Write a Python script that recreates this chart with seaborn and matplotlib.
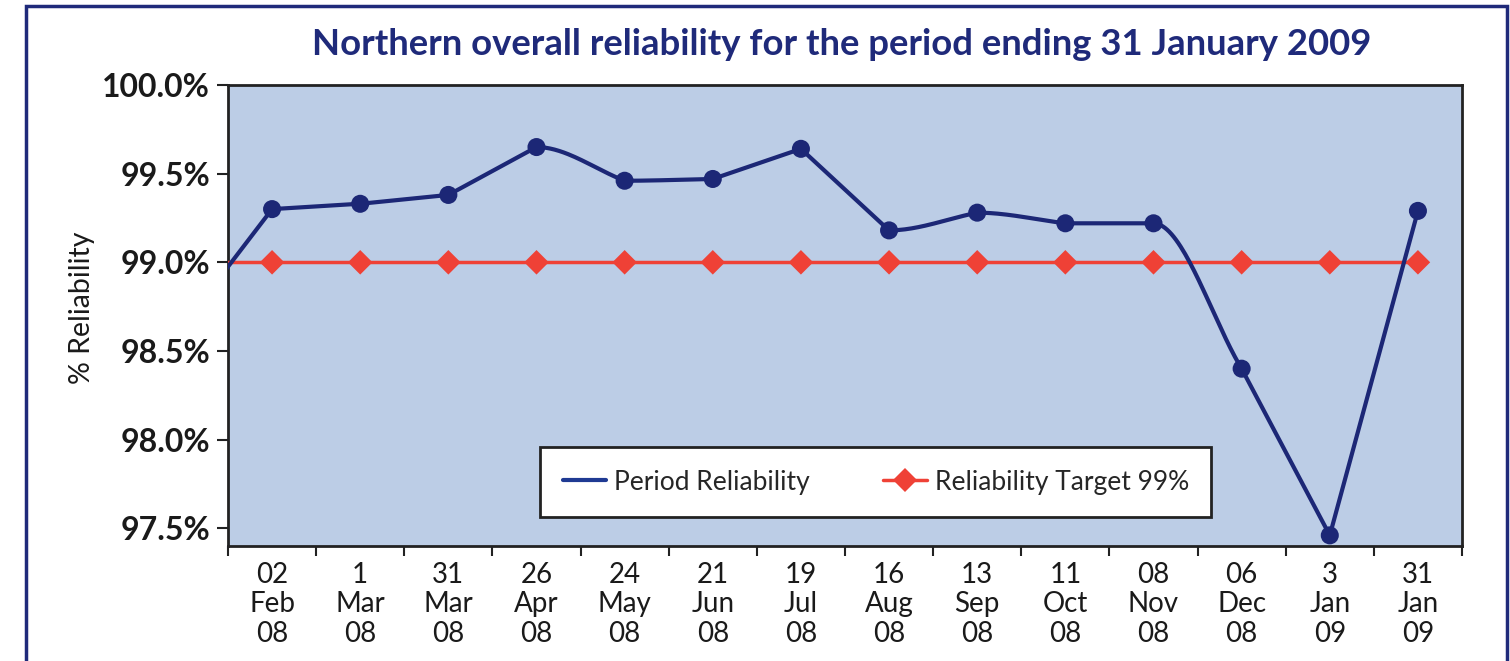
import numpy as np
import pandas as pd
import matplotlib
matplotlib.use("Agg")
import matplotlib.pyplot as plt
import seaborn as sns
from matplotlib.lines import Line2D
from matplotlib.patches import Rectangle

# ---------------- data ----------------
categories = ["02\nFeb\n08", "1\nMar\n08", "31\nMar\n08", "26\nApr\n08", "24\nMay\n08",
              "21\nJun\n08", "19\nJul\n08", "16\nAug\n08", "13\nSep\n08", "11\nOct\n08",
              "08\nNov\n08", "06\nDec\n08", "3\nJan\n09", "31\nJan\n09"]
period_reliability = [99.30, 99.33, 99.38, 99.65, 99.46, 99.47, 99.64,
                      99.18, 99.28, 99.22, 99.22, 98.40, 97.46, 99.29]
prior_period_reliability = 98.65   # previous period, just off the left edge
reliability_target = [99.0] * len(categories)
prior_period_target = 99.0
ytick_values = [97.5, 98.0, 98.5, 99.0, 99.5, 100.0]

NAVY = "#1c2776"
RED = "#ef4136"
FACE = "#bccde6"
FONT = "Lato"


def smooth_curve(xs, ys, n=40):
    xs = np.asarray(xs, float)
    ys = np.asarray(ys, float)
    m = np.diff(ys) / np.diff(xs)
    cx, cy = [], []
    t = np.linspace(0, 1, n)
    h00 = 2 * t**3 - 3 * t**2 + 1
    h10 = t**3 - 2 * t**2 + t
    h01 = -2 * t**3 + 3 * t**2
    h11 = t**3 - t**2
    for i in range(len(xs) - 1):
        h = xs[i + 1] - xs[i]
        m_out = m[i]
        if i == 0:
            s0 = m_out
        else:
            m_in = m[i - 1]
            flat = abs(m_in) < 1e-9 or (m_in * m_out <= 0 and abs(m_out) <= abs(m_in))
            s0 = 0.0 if flat else m_out
        s1 = m_out
        cx.extend(xs[i] + t * h)
        cy.extend(h00 * ys[i] + h10 * h * s0 + h01 * ys[i + 1] + h11 * h * s1)
    return np.array(cx), np.array(cy)


sns.set_style("white")
plt.rcParams["font.family"] = [FONT, "DejaVu Sans"]

idx = np.arange(len(categories))
df = pd.DataFrame({"pos": idx, "period": period_reliability, "target": reliability_target})
target_line = pd.DataFrame({"pos": np.concatenate([[-1], idx]),
                            "target": [prior_period_target] + reliability_target})

cx, cy = smooth_curve(np.concatenate([[-1], idx]),
                      np.concatenate([[prior_period_reliability], period_reliability]))
curve = pd.DataFrame({"pos": cx, "val": cy})

fig = plt.figure(figsize=(15.1, 6.61), dpi=100)
ax = fig.add_axes([228 / 1510, 1 - 546 / 661, 1234 / 1510, 461 / 661])
ax.set_facecolor(FACE)

sns.lineplot(data=target_line, x="pos", y="target", ax=ax, color=RED, linewidth=2.5,
             zorder=3, legend=False)
sns.scatterplot(data=df, x="pos", y="target", ax=ax, color=RED, marker="D",
                s=12.5 ** 2, edgecolor="none", zorder=3, legend=False)
sns.lineplot(data=curve, x="pos", y="val", ax=ax, color=NAVY, linewidth=3,
             sort=False, estimator=None, zorder=4, legend=False)
sns.scatterplot(data=df, x="pos", y="period", ax=ax, color=NAVY, s=13**2,
                edgecolor="none", zorder=5, legend=False)

ax.set_xlim(-0.5, len(categories) - 0.5)
ax.set_ylim(97.4, 100.0)
ax.set_xlabel("")
ax.set_ylabel("")

ax.set_yticks(ytick_values)
ax.set_yticklabels([f"{v:.1f}%" for v in ytick_values], fontsize=23,
                   fontweight="bold", color="#1a1a1a")
ax.tick_params(axis="y", which="major", length=8, width=1.5, color="#222222",
               pad=5, left=True)

ax.set_xticks(idx)
ax.set_xticklabels(categories, fontsize=20, color="#1a1a1a")
for lab in ax.get_xticklabels():
    lab.set_linespacing(1.16)
ax.set_xticks(np.arange(-0.5, len(categories), 1.0), minor=True)
ax.tick_params(axis="x", which="major", length=0, pad=11.5)
ax.tick_params(axis="x", which="minor", length=7.5, width=1.5, color="#222222",
               bottom=True)

for sp in ax.spines.values():
    sp.set_color("#222222")
    sp.set_linewidth(2)
    sp.set_visible(True)

handles = [Line2D([], [], color="#1f3a93", linewidth=3),
           Line2D([], [], color=RED, linewidth=2.5, marker="D", markersize=12,
                  markeredgewidth=0)]
leg = ax.legend(handles, ["Period Reliability", "Reliability Target 99%"],
                loc="lower left", bbox_to_anchor=(0.253, 0.063, 0.544, 0.156),
                mode="expand", ncol=2, fontsize=19, frameon=True, fancybox=False,
                framealpha=1, edgecolor="#222222", handlelength=1.65,
                handletextpad=0.3, borderaxespad=0, borderpad=0.85, columnspacing=2.0)
leg.get_frame().set_linewidth(2)
leg.set_zorder(10)

fig.text(842 / 1510, 1 - 55 / 661,
         "Northern overall reliability for the period ending 31 January 2009",
         ha="center", va="baseline", fontsize=26.3, fontweight="bold", color="#1f2a7a")
fig.text(82 / 1510, 1 - 308 / 661, "% Reliability", rotation=90, ha="center",
         va="center", fontsize=20.5, color="#1a1a1a")

fig.patches.append(Rectangle((26 / 1510, -0.2), (1507 - 26) / 1510, 1.2 - 6 / 661,
                             transform=fig.transFigure, fill=False,
                             edgecolor="#1f2a7a", linewidth=2.5, zorder=0))

fig.savefig("out.png", dpi=100)
